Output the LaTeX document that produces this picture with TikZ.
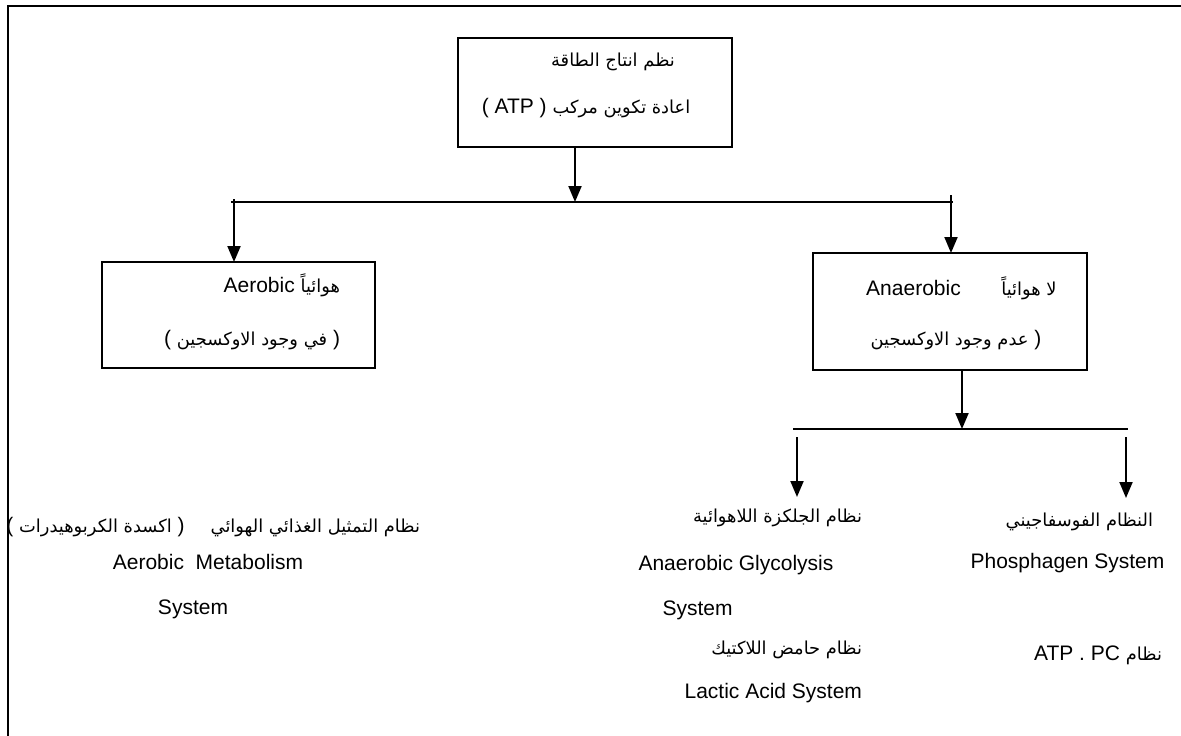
\documentclass[tikz,border=0pt]{standalone}
\usepackage{fontspec}
\setmainfont{Liberation Sans}
\newfontfamily\arfont[Script=Arabic,Scale=0.85]{DejaVu Sans}
\TeXXeTstate=1
\newcommand{\artx}[1]{{\arfont\beginR #1\endR}}
\usetikzlibrary{arrows.meta}
\begin{document}
\begin{tikzpicture}[x=1pt,y=-1pt,
  every node/.style={inner sep=0pt,outer sep=0pt,font=\fontsize{21}{25}\selectfont},
  box/.style={draw,line width=2pt,rectangle},
  ln/.style={line width=2pt},
  arr/.style={line width=2pt,-{Triangle[length=16pt,width=13pt]}},
  frame/.style={line width=2.5pt}]
\useasboundingbox (0,0) rectangle (1181,736);
% outer frame (top and left)
\coordinate (fa) at (8,6);
\coordinate (fb) at (1181,6);
\coordinate (fc) at (8,736);
\draw[frame] (fb) -- (fa) -- (fc);
% boxes
\node[box,minimum width=274pt,minimum height=109pt] (top) at (595,92.5) {};
\node[box,minimum width=273pt,minimum height=106pt] (aer) at (238.5,315) {};
\node[box,minimum width=274pt,minimum height=117pt] (ana) at (950,311.5) {};
% texts in boxes
\node (top1) at (613,62) {\artx{نظم انتاج الطاقة}};
\node (top2) at (586,108) {( ATP ) \artx{اعادة تكوين مركب}};
\node[anchor=east] (aer1) at (340,285) {Aerobic \artx{هوائياً}};
\node[anchor=east] (aer2) at (340,340) {( \artx{في وجود الاوكسجين} )};
\node (ana1) at (913.5,288) {Anaerobic};
\node (ana1b) at (1029,288) {\artx{لا هوائياً}};
\node (ana2) at (956,340) {\artx{عدم وجود الاوكسجين} )};
% bottom texts
\node[anchor=east] (l1) at (420,527) {( \artx{اكسدة الكربوهيدرات} )\hspace{26pt}\artx{نظام التمثيل الغذائي الهوائي}};
\node (l2) at (208,562) {Aerobic\ \ Metabolism};
\node (l3) at (193,609) {System};
\node[anchor=east] (m1) at (862,518) {\artx{نظام الجلكزة اللاهوائية}};
\node (m2) at (736,565) {Anaerobic Glycolysis};
\node (m3) at (697.5,610) {System};
\node[anchor=east] (m4) at (862,650) {\artx{نظام حامض اللاكتيك}};
\node[anchor=east] (m5) at (862,693) {Lactic Acid System};
\node[anchor=east] (r1) at (1153,522) {\artx{النظام الفوسفاجيني}};
\node (r2) at (1067.5,563) {Phosphagen System};
\node[anchor=east] (r3) at (1162,655) {ATP . PC \artx{نظام}};
% connectors
\coordinate (jt) at (575,202);
\coordinate (hl) at (231,202);
\coordinate (hr) at (953,202);
\coordinate (al) at (234,199);
\coordinate (ar) at (951,195);
\draw[ln] (hl) -- (hr);
\draw[arr] (top.south -| jt) -- (jt);
\draw[arr] (al) -- (al |- aer.north);
\draw[arr] (ar) -- (ar |- ana.north);
\coordinate (jb) at (962,429);
\coordinate (bl) at (793,429);
\coordinate (br) at (1128,429);
\draw[ln] (bl) -- (br);
\draw[arr] (ana.south -| jb) -- (jb);
\coordinate (sl) at (797,437);
\coordinate (slt) at (797,497);
\coordinate (sr) at (1126,437);
\coordinate (srt) at (1126,498);
\draw[arr] (sl) -- (slt);
\draw[arr] (sr) -- (srt);
\end{tikzpicture}
\end{document}
